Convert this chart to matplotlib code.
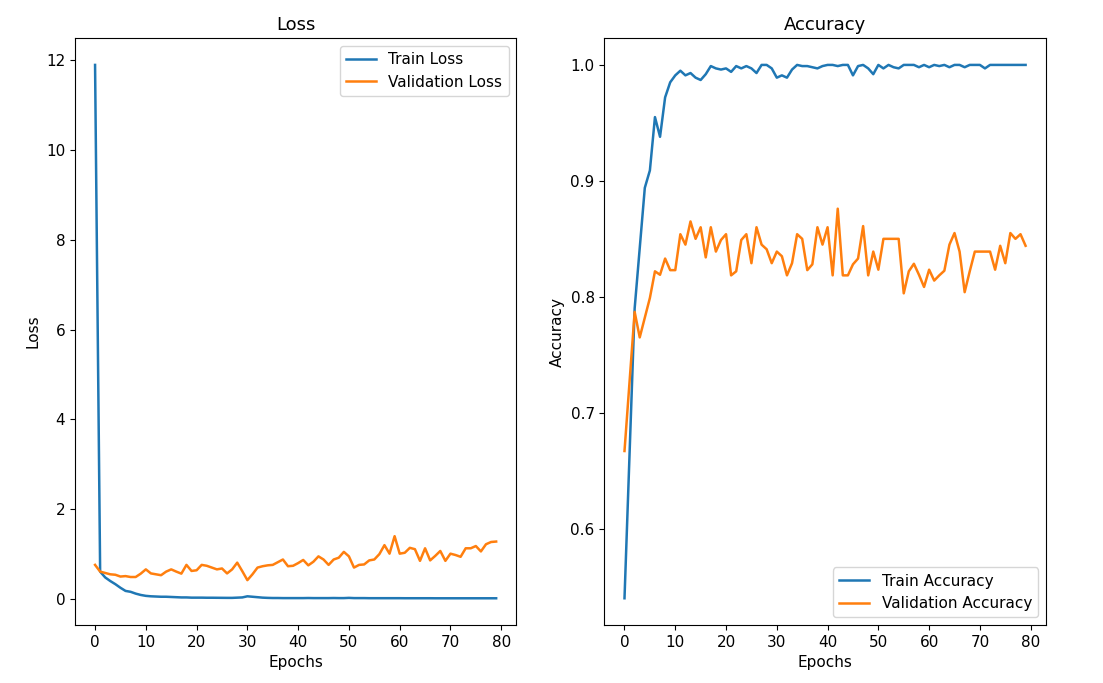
import matplotlib
matplotlib.use("Agg")
import matplotlib.pyplot as plt
import numpy as np

epochs = list(range(80))

train_loss = [11.9, 0.61, 0.48, 0.40, 0.33, 0.25, 0.18, 0.16, 0.12, 0.09,
              0.07, 0.06, 0.055, 0.05, 0.05, 0.045, 0.04, 0.035, 0.035, 0.03,
              0.03, 0.03, 0.028, 0.028, 0.027, 0.026, 0.025, 0.025, 0.03, 0.035,
              0.06, 0.05, 0.04, 0.03, 0.025, 0.022, 0.022, 0.02, 0.02, 0.02,
              0.02, 0.02, 0.022, 0.02, 0.02, 0.02, 0.02, 0.022, 0.02, 0.02,
              0.025, 0.02, 0.02, 0.02, 0.018, 0.018, 0.018, 0.018, 0.018, 0.018,
              0.018, 0.017, 0.017, 0.017, 0.017, 0.017, 0.017, 0.016, 0.016, 0.016,
              0.016, 0.016, 0.016, 0.016, 0.016, 0.016, 0.016, 0.016, 0.016, 0.016]

val_loss = [0.76, 0.61, 0.58, 0.55, 0.54, 0.50, 0.51, 0.49, 0.49, 0.565,
            0.66, 0.57, 0.55, 0.53, 0.61, 0.66, 0.61, 0.565, 0.76, 0.625,
            0.64, 0.76, 0.74, 0.70, 0.66, 0.68, 0.57, 0.66, 0.81, 0.62,
            0.42, 0.55, 0.70, 0.73, 0.75, 0.76, 0.82, 0.88, 0.73, 0.74,
            0.80, 0.87, 0.75, 0.83, 0.95, 0.88, 0.76, 0.88, 0.92, 1.05,
            0.95, 0.70, 0.76, 0.77, 0.86, 0.88, 1.00, 1.20, 1.01, 1.40,
            1.01, 1.03, 1.14, 1.11, 0.85, 1.13, 0.86, 0.96, 1.07, 0.85,
            1.01, 0.98, 0.94, 1.13, 1.13, 1.18, 1.06, 1.22, 1.27, 1.28]

train_acc = [0.540, 0.665, 0.790, 0.842, 0.894, 0.909, 0.955, 0.938, 0.972, 0.985,
             0.991, 0.995, 0.991, 0.993, 0.989, 0.987, 0.992, 0.999, 0.997, 0.996,
             0.997, 0.994, 0.999, 0.997, 0.999, 0.997, 0.993, 1.000, 1.000, 0.997,
             0.989, 0.991, 0.989, 0.996, 1.000, 0.999, 0.999, 0.998, 0.997, 0.999,
             1.000, 1.000, 0.999, 1.000, 1.000, 0.991, 0.999, 1.000, 0.997, 0.992,
             1.000, 0.997, 1.000, 0.998, 0.997, 1.000, 1.000, 1.000, 0.998, 1.000,
             0.998, 1.000, 0.999, 1.000, 0.998, 1.000, 1.000, 0.998, 1.000, 1.000,
             1.000, 0.997, 1.000, 1.000, 1.000, 1.000, 1.000, 1.000, 1.000, 1.000]

val_acc = [0.667, 0.727, 0.787, 0.765, 0.782, 0.799, 0.822, 0.819, 0.833, 0.823,
           0.823, 0.854, 0.845, 0.865, 0.850, 0.860, 0.834, 0.860, 0.839, 0.849,
           0.854, 0.8185, 0.822, 0.849, 0.854, 0.829, 0.860, 0.845, 0.841, 0.829,
           0.839, 0.835, 0.8185, 0.829, 0.854, 0.850, 0.823, 0.828, 0.860, 0.845,
           0.860, 0.8185, 0.876, 0.8185, 0.8185, 0.828, 0.833, 0.861, 0.8185, 0.839,
           0.8234, 0.850, 0.850, 0.850, 0.850, 0.803, 0.822, 0.8285, 0.819, 0.8085,
           0.8234, 0.814, 0.8185, 0.8225, 0.845, 0.855, 0.839, 0.804, 0.822, 0.839,
           0.839, 0.839, 0.839, 0.8234, 0.844, 0.829, 0.855, 0.850, 0.854, 0.844]

plt.rcParams['font.size'] = 11

fig = plt.figure(figsize=(11.03, 6.83), dpi=100)
ax1 = fig.add_axes([0.068, 0.085, 0.400, 0.859])
ax2 = fig.add_axes([0.548, 0.085, 0.400, 0.859])

ax1.plot(epochs, train_loss, label="Train Loss", linewidth=1.8)
ax1.plot(epochs, val_loss, label="Validation Loss", linewidth=1.8)
ax1.set_title("Loss", fontsize=13)
ax1.set_xlabel("Epochs")
ax1.set_ylabel("Loss")
ax1.legend(loc="upper right")

ax2.plot(epochs, train_acc, label="Train Accuracy", linewidth=1.8)
ax2.plot(epochs, val_acc, label="Validation Accuracy", linewidth=1.8)
ax2.set_title("Accuracy", fontsize=13)
ax2.set_xlabel("Epochs")
ax2.set_ylabel("Accuracy")
ax2.legend(loc="lower right")

fig.savefig("out.png", dpi=100)
